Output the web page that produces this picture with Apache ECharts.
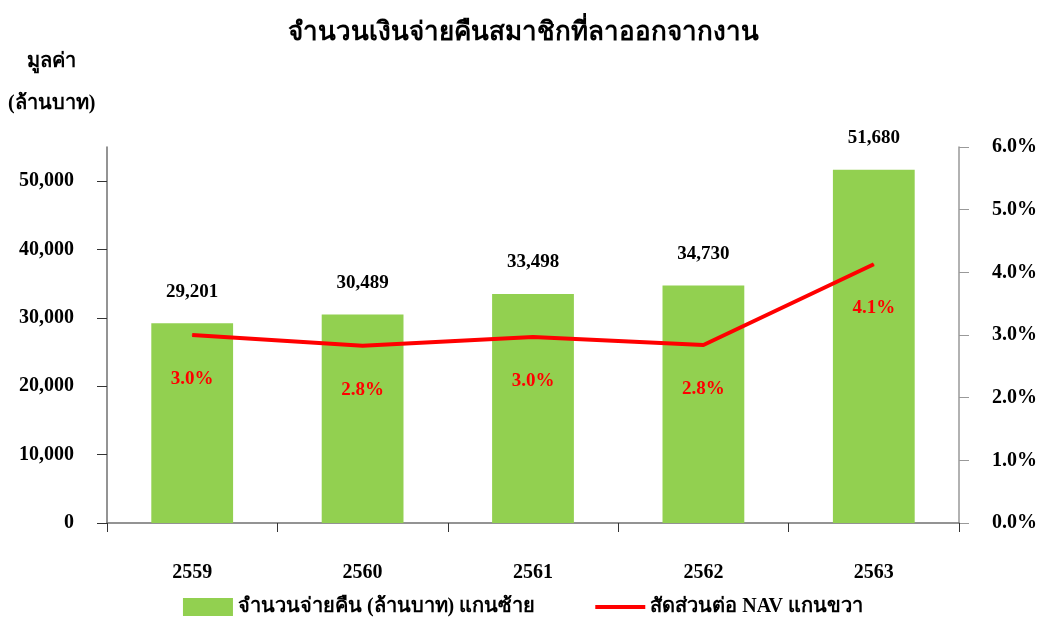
<!DOCTYPE html>
<html>
<head>
<meta charset="utf-8">
<script src="https://cdn.jsdelivr.net/npm/echarts@6/dist/echarts.min.js"></script>
<style>
html,body{margin:0;padding:0;background:#fff;}
#chart{width:1046px;height:622px;}
</style>
</head>
<body>
<div id="chart"></div>
<script>
var years = ['2559', '2560', '2561', '2562', '2563'];
var payout = [29201, 30489, 33498, 34730, 51680];
var navRatio = [3.0, 2.83, 2.97, 2.84, 4.13];
var leftTicks = [0, 10000, 20000, 30000, 40000, 50000];

var font = '"Liberation Serif", "Times New Roman", serif';

var option = {
    backgroundColor: '#fff',
    animation: false,
    textStyle: { fontFamily: font },
    title: {
        text: 'จำนวนเงินจ่ายคืนสมาชิกที่ลาออกจากงาน',
        left: 'center',
        top: 15,
        textStyle: { fontSize: 26, fontWeight: 'bold', color: '#000', fontFamily: font }
    },
    graphic: [{
        type: 'text',
        left: 27,
        top: 52,
        style: { text: 'มูลค่า', font: 'bold 20px ' + font, fill: '#000' }
    }, {
        type: 'text',
        left: 8,
        top: 94,
        style: { text: '(ล้านบาท)', font: 'bold 20px ' + font, fill: '#000' }
    }],
    legend: {
        bottom: 0,
        left: 'center',
        itemGap: 60,
        itemWidth: 50,
        itemHeight: 18,
        textStyle: { fontSize: 20, fontWeight: 'bold', color: '#000', fontFamily: font },
        data: [
            { name: 'จำนวนจ่ายคืน (ล้านบาท) แกนซ้าย', icon: 'rect' },
            { name: 'สัดส่วนต่อ NAV แกนขวา', icon: 'path://M0,0H50V4H0Z', itemStyle: { color: '#ff0000' } }
        ]
    },
    grid: { left: 107, right: 87, top: 147, bottom: 99 },
    xAxis: {
        type: 'category',
        data: years,
        axisLine: { lineStyle: { color: '#707070', width: 1.5 } },
        axisTick: { show: true, length: 9, lineStyle: { color: '#333' } },
        axisLabel: { color: '#000', fontSize: 20, fontWeight: 'bold', margin: 40, fontFamily: font }
    },
    yAxis: [{
        type: 'value',
        min: 0,
        max: 55000,
        interval: 10000,
        splitLine: { show: false },
        axisLine: { show: true, lineStyle: { color: '#707070', width: 1.5 } },
        axisTick: { show: true, length: 10, lineStyle: { color: '#333' } },
        axisLabel: {
            color: '#000', fontSize: 20, fontWeight: 'bold', margin: 33, fontFamily: font,
            showMaxLabel: false,
            formatter: function (v) { return leftTicks.indexOf(v) >= 0 ? v.toLocaleString('en-US') : ''; }
        }
    }, {
        type: 'value',
        min: 0,
        max: 6,
        interval: 1,
        splitLine: { show: false },
        axisLine: { show: true, lineStyle: { color: '#999', width: 1.5 } },
        axisTick: { show: true, length: 10, lineStyle: { color: '#999' } },
        axisLabel: {
            color: '#000', fontSize: 20, fontWeight: 'bold', margin: 33, fontFamily: font,
            formatter: function (v) { return v.toFixed(1) + '%'; }
        }
    }],
    series: [{
        name: 'จำนวนจ่ายคืน (ล้านบาท) แกนซ้าย',
        type: 'bar',
        data: payout,
        barWidth: '48%',
        itemStyle: { color: '#92d050' },
        label: {
            show: true,
            position: 'top',
            distance: 22,
            color: '#000',
            fontSize: 19,
            fontWeight: 'bold',
            fontFamily: font,
            formatter: function (p) { return p.value.toLocaleString('en-US'); }
        }
    }, {
        name: 'สัดส่วนต่อ NAV แกนขวา',
        type: 'line',
        yAxisIndex: 1,
        data: navRatio,
        symbol: 'circle',
        symbolSize: 1,
        showSymbol: true,
        lineStyle: { color: '#ff0000', width: 4 },
        itemStyle: { color: '#ff0000' },
        label: {
            show: true,
            position: 'bottom',
            distance: 34,
            color: '#ff0000',
            fontSize: 19,
            fontWeight: 'bold',
            fontFamily: font,
            formatter: function (p) { return p.value.toFixed(1) + '%'; }
        }
    }]
};

var myChart = echarts.init(document.getElementById('chart'));
myChart.setOption(option);
</script>
</body>
</html>
